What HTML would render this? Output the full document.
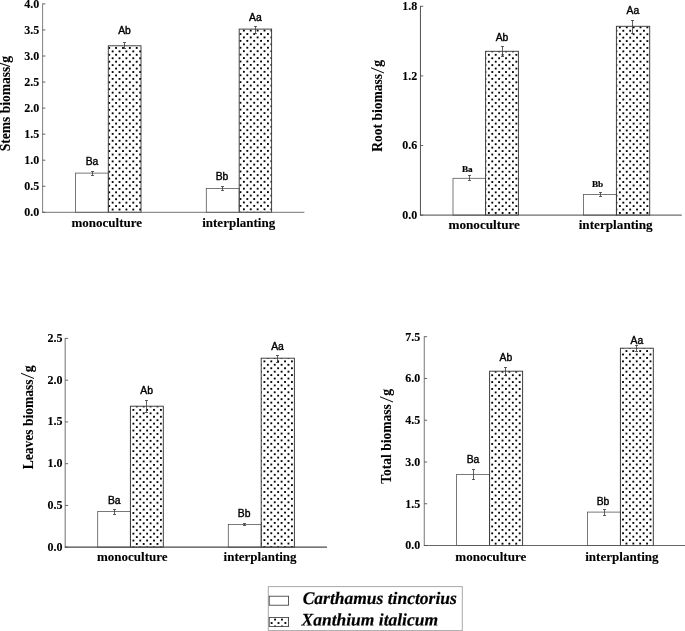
<!DOCTYPE html>
<html><head><meta charset="utf-8"><title>Biomass</title>
<style>
html,body{margin:0;padding:0;background:#fff;}
body{width:685px;height:631px;overflow:hidden;position:relative;}
svg{position:absolute;left:0;top:0;display:block;will-change:transform;}
.t{font-family:"Liberation Serif",serif;font-weight:bold;fill:#000;stroke:#000;stroke-width:0.1px;}
.tk{font-size:12px;text-anchor:end;}
.xl{font-size:13px;text-anchor:middle;}
.yl{font-size:13.55px;text-anchor:start;}
.sl{font-weight:normal;font-size:18.3px;stroke-width:0;}
.a{font-family:"Liberation Sans",sans-serif;font-size:10.35px;text-anchor:middle;fill:#000;stroke:#000;stroke-width:0.38px;}
.b{font-family:"Liberation Serif",serif;font-weight:bold;font-size:9.2px;text-anchor:middle;fill:#000;stroke:#000;stroke-width:0.15px;}
.lg{font-family:"Liberation Serif",serif;font-weight:bold;font-style:italic;font-size:17.5px;fill:#000;stroke:#000;stroke-width:0.2px;}
</style></head><body>
<svg width="685" height="631" viewBox="0 0 685 631">
<defs>
<g id="dg" fill="#000"><rect x="-4.36" y="-4.36" width="1.85" height="1.85"/><rect x="2.51" y="-4.36" width="1.85" height="1.85"/><rect x="9.39" y="-4.36" width="1.85" height="1.85"/><rect x="16.26" y="-4.36" width="1.85" height="1.85"/><rect x="23.14" y="-4.36" width="1.85" height="1.85"/><rect x="30.01" y="-4.36" width="1.85" height="1.85"/><rect x="36.89" y="-4.36" width="1.85" height="1.85"/><rect x="43.76" y="-4.36" width="1.85" height="1.85"/><rect x="50.64" y="-4.36" width="1.85" height="1.85"/><rect x="57.51" y="-4.36" width="1.85" height="1.85"/><rect x="-4.36" y="2.51" width="1.85" height="1.85"/><rect x="-0.93" y="-0.93" width="1.85" height="1.85"/><rect x="2.51" y="2.51" width="1.85" height="1.85"/><rect x="5.95" y="-0.93" width="1.85" height="1.85"/><rect x="9.39" y="2.51" width="1.85" height="1.85"/><rect x="12.82" y="-0.93" width="1.85" height="1.85"/><rect x="16.26" y="2.51" width="1.85" height="1.85"/><rect x="19.7" y="-0.93" width="1.85" height="1.85"/><rect x="23.14" y="2.51" width="1.85" height="1.85"/><rect x="26.57" y="-0.93" width="1.85" height="1.85"/><rect x="30.01" y="2.51" width="1.85" height="1.85"/><rect x="33.45" y="-0.93" width="1.85" height="1.85"/><rect x="36.89" y="2.51" width="1.85" height="1.85"/><rect x="40.33" y="-0.93" width="1.85" height="1.85"/><rect x="43.76" y="2.51" width="1.85" height="1.85"/><rect x="47.2" y="-0.93" width="1.85" height="1.85"/><rect x="50.64" y="2.51" width="1.85" height="1.85"/><rect x="54.08" y="-0.93" width="1.85" height="1.85"/><rect x="57.51" y="2.51" width="1.85" height="1.85"/><rect x="-4.36" y="9.39" width="1.85" height="1.85"/><rect x="-0.93" y="5.95" width="1.85" height="1.85"/><rect x="2.51" y="9.39" width="1.85" height="1.85"/><rect x="5.95" y="5.95" width="1.85" height="1.85"/><rect x="9.39" y="9.39" width="1.85" height="1.85"/><rect x="12.82" y="5.95" width="1.85" height="1.85"/><rect x="16.26" y="9.39" width="1.85" height="1.85"/><rect x="19.7" y="5.95" width="1.85" height="1.85"/><rect x="23.14" y="9.39" width="1.85" height="1.85"/><rect x="26.57" y="5.95" width="1.85" height="1.85"/><rect x="30.01" y="9.39" width="1.85" height="1.85"/><rect x="33.45" y="5.95" width="1.85" height="1.85"/><rect x="36.89" y="9.39" width="1.85" height="1.85"/><rect x="40.33" y="5.95" width="1.85" height="1.85"/><rect x="43.76" y="9.39" width="1.85" height="1.85"/><rect x="47.2" y="5.95" width="1.85" height="1.85"/><rect x="50.64" y="9.39" width="1.85" height="1.85"/><rect x="54.08" y="5.95" width="1.85" height="1.85"/><rect x="57.51" y="9.39" width="1.85" height="1.85"/><rect x="-4.36" y="16.26" width="1.85" height="1.85"/><rect x="-0.93" y="12.82" width="1.85" height="1.85"/><rect x="2.51" y="16.26" width="1.85" height="1.85"/><rect x="5.95" y="12.82" width="1.85" height="1.85"/><rect x="9.39" y="16.26" width="1.85" height="1.85"/><rect x="12.82" y="12.82" width="1.85" height="1.85"/><rect x="16.26" y="16.26" width="1.85" height="1.85"/><rect x="19.7" y="12.82" width="1.85" height="1.85"/><rect x="23.14" y="16.26" width="1.85" height="1.85"/><rect x="26.57" y="12.82" width="1.85" height="1.85"/><rect x="30.01" y="16.26" width="1.85" height="1.85"/><rect x="33.45" y="12.82" width="1.85" height="1.85"/><rect x="36.89" y="16.26" width="1.85" height="1.85"/><rect x="40.33" y="12.82" width="1.85" height="1.85"/><rect x="43.76" y="16.26" width="1.85" height="1.85"/><rect x="47.2" y="12.82" width="1.85" height="1.85"/><rect x="50.64" y="16.26" width="1.85" height="1.85"/><rect x="54.08" y="12.82" width="1.85" height="1.85"/><rect x="57.51" y="16.26" width="1.85" height="1.85"/><rect x="-4.36" y="23.14" width="1.85" height="1.85"/><rect x="-0.93" y="19.7" width="1.85" height="1.85"/><rect x="2.51" y="23.14" width="1.85" height="1.85"/><rect x="5.95" y="19.7" width="1.85" height="1.85"/><rect x="9.39" y="23.14" width="1.85" height="1.85"/><rect x="12.82" y="19.7" width="1.85" height="1.85"/><rect x="16.26" y="23.14" width="1.85" height="1.85"/><rect x="19.7" y="19.7" width="1.85" height="1.85"/><rect x="23.14" y="23.14" width="1.85" height="1.85"/><rect x="26.57" y="19.7" width="1.85" height="1.85"/><rect x="30.01" y="23.14" width="1.85" height="1.85"/><rect x="33.45" y="19.7" width="1.85" height="1.85"/><rect x="36.89" y="23.14" width="1.85" height="1.85"/><rect x="40.33" y="19.7" width="1.85" height="1.85"/><rect x="43.76" y="23.14" width="1.85" height="1.85"/><rect x="47.2" y="19.7" width="1.85" height="1.85"/><rect x="50.64" y="23.14" width="1.85" height="1.85"/><rect x="54.08" y="19.7" width="1.85" height="1.85"/><rect x="57.51" y="23.14" width="1.85" height="1.85"/><rect x="-4.36" y="30.01" width="1.85" height="1.85"/><rect x="-0.93" y="26.57" width="1.85" height="1.85"/><rect x="2.51" y="30.01" width="1.85" height="1.85"/><rect x="5.95" y="26.57" width="1.85" height="1.85"/><rect x="9.39" y="30.01" width="1.85" height="1.85"/><rect x="12.82" y="26.57" width="1.85" height="1.85"/><rect x="16.26" y="30.01" width="1.85" height="1.85"/><rect x="19.7" y="26.57" width="1.85" height="1.85"/><rect x="23.14" y="30.01" width="1.85" height="1.85"/><rect x="26.57" y="26.57" width="1.85" height="1.85"/><rect x="30.01" y="30.01" width="1.85" height="1.85"/><rect x="33.45" y="26.57" width="1.85" height="1.85"/><rect x="36.89" y="30.01" width="1.85" height="1.85"/><rect x="40.33" y="26.57" width="1.85" height="1.85"/><rect x="43.76" y="30.01" width="1.85" height="1.85"/><rect x="47.2" y="26.57" width="1.85" height="1.85"/><rect x="50.64" y="30.01" width="1.85" height="1.85"/><rect x="54.08" y="26.57" width="1.85" height="1.85"/><rect x="57.51" y="30.01" width="1.85" height="1.85"/><rect x="-4.36" y="36.89" width="1.85" height="1.85"/><rect x="-0.93" y="33.45" width="1.85" height="1.85"/><rect x="2.51" y="36.89" width="1.85" height="1.85"/><rect x="5.95" y="33.45" width="1.85" height="1.85"/><rect x="9.39" y="36.89" width="1.85" height="1.85"/><rect x="12.82" y="33.45" width="1.85" height="1.85"/><rect x="16.26" y="36.89" width="1.85" height="1.85"/><rect x="19.7" y="33.45" width="1.85" height="1.85"/><rect x="23.14" y="36.89" width="1.85" height="1.85"/><rect x="26.57" y="33.45" width="1.85" height="1.85"/><rect x="30.01" y="36.89" width="1.85" height="1.85"/><rect x="33.45" y="33.45" width="1.85" height="1.85"/><rect x="36.89" y="36.89" width="1.85" height="1.85"/><rect x="40.33" y="33.45" width="1.85" height="1.85"/><rect x="43.76" y="36.89" width="1.85" height="1.85"/><rect x="47.2" y="33.45" width="1.85" height="1.85"/><rect x="50.64" y="36.89" width="1.85" height="1.85"/><rect x="54.08" y="33.45" width="1.85" height="1.85"/><rect x="57.51" y="36.89" width="1.85" height="1.85"/><rect x="-4.36" y="43.76" width="1.85" height="1.85"/><rect x="-0.93" y="40.33" width="1.85" height="1.85"/><rect x="2.51" y="43.76" width="1.85" height="1.85"/><rect x="5.95" y="40.33" width="1.85" height="1.85"/><rect x="9.39" y="43.76" width="1.85" height="1.85"/><rect x="12.82" y="40.33" width="1.85" height="1.85"/><rect x="16.26" y="43.76" width="1.85" height="1.85"/><rect x="19.7" y="40.33" width="1.85" height="1.85"/><rect x="23.14" y="43.76" width="1.85" height="1.85"/><rect x="26.57" y="40.33" width="1.85" height="1.85"/><rect x="30.01" y="43.76" width="1.85" height="1.85"/><rect x="33.45" y="40.33" width="1.85" height="1.85"/><rect x="36.89" y="43.76" width="1.85" height="1.85"/><rect x="40.33" y="40.33" width="1.85" height="1.85"/><rect x="43.76" y="43.76" width="1.85" height="1.85"/><rect x="47.2" y="40.33" width="1.85" height="1.85"/><rect x="50.64" y="43.76" width="1.85" height="1.85"/><rect x="54.08" y="40.33" width="1.85" height="1.85"/><rect x="57.51" y="43.76" width="1.85" height="1.85"/><rect x="-4.36" y="50.64" width="1.85" height="1.85"/><rect x="-0.93" y="47.2" width="1.85" height="1.85"/><rect x="2.51" y="50.64" width="1.85" height="1.85"/><rect x="5.95" y="47.2" width="1.85" height="1.85"/><rect x="9.39" y="50.64" width="1.85" height="1.85"/><rect x="12.82" y="47.2" width="1.85" height="1.85"/><rect x="16.26" y="50.64" width="1.85" height="1.85"/><rect x="19.7" y="47.2" width="1.85" height="1.85"/><rect x="23.14" y="50.64" width="1.85" height="1.85"/><rect x="26.57" y="47.2" width="1.85" height="1.85"/><rect x="30.01" y="50.64" width="1.85" height="1.85"/><rect x="33.45" y="47.2" width="1.85" height="1.85"/><rect x="36.89" y="50.64" width="1.85" height="1.85"/><rect x="40.33" y="47.2" width="1.85" height="1.85"/><rect x="43.76" y="50.64" width="1.85" height="1.85"/><rect x="47.2" y="47.2" width="1.85" height="1.85"/><rect x="50.64" y="50.64" width="1.85" height="1.85"/><rect x="54.08" y="47.2" width="1.85" height="1.85"/><rect x="57.51" y="50.64" width="1.85" height="1.85"/><rect x="-4.36" y="57.51" width="1.85" height="1.85"/><rect x="-0.93" y="54.08" width="1.85" height="1.85"/><rect x="2.51" y="57.51" width="1.85" height="1.85"/><rect x="5.95" y="54.08" width="1.85" height="1.85"/><rect x="9.39" y="57.51" width="1.85" height="1.85"/><rect x="12.82" y="54.08" width="1.85" height="1.85"/><rect x="16.26" y="57.51" width="1.85" height="1.85"/><rect x="19.7" y="54.08" width="1.85" height="1.85"/><rect x="23.14" y="57.51" width="1.85" height="1.85"/><rect x="26.57" y="54.08" width="1.85" height="1.85"/><rect x="30.01" y="57.51" width="1.85" height="1.85"/><rect x="33.45" y="54.08" width="1.85" height="1.85"/><rect x="36.89" y="57.51" width="1.85" height="1.85"/><rect x="40.33" y="54.08" width="1.85" height="1.85"/><rect x="43.76" y="57.51" width="1.85" height="1.85"/><rect x="47.2" y="54.08" width="1.85" height="1.85"/><rect x="50.64" y="57.51" width="1.85" height="1.85"/><rect x="54.08" y="54.08" width="1.85" height="1.85"/><rect x="57.51" y="57.51" width="1.85" height="1.85"/></g>
<pattern id="d0_1" x="0" y="0" width="55" height="55" patternUnits="userSpaceOnUse"><use href="#dg" x="-0.78" y="-0.17"/></pattern>
<pattern id="d0_3" x="0" y="0" width="55" height="55" patternUnits="userSpaceOnUse"><use href="#dg" x="-0.18" y="-0.38"/></pattern>
<pattern id="d1_1" x="0" y="0" width="55" height="55" patternUnits="userSpaceOnUse"><use href="#dg" x="0.72" y="-0.17"/></pattern>
<pattern id="d1_3" x="0" y="0" width="55" height="55" patternUnits="userSpaceOnUse"><use href="#dg" x="1.12" y="-0.17"/></pattern>
<pattern id="d2_1" x="0" y="0" width="55" height="55" patternUnits="userSpaceOnUse"><use href="#dg" x="-0.68" y="0.83"/></pattern>
<pattern id="d2_3" x="0" y="0" width="55" height="55" patternUnits="userSpaceOnUse"><use href="#dg" x="-0.28" y="0.42"/></pattern>
<pattern id="d3_1" x="0" y="0" width="55" height="55" patternUnits="userSpaceOnUse"><use href="#dg" x="0.62" y="0.53"/></pattern>
<pattern id="d3_3" x="0" y="0" width="55" height="55" patternUnits="userSpaceOnUse"><use href="#dg" x="0.82" y="0.42"/></pattern>
<pattern id="dlg" x="0" y="0" width="55" height="55" patternUnits="userSpaceOnUse"><use href="#dg" x="0.07" y="0.83"/></pattern>
</defs>
<rect x="0" y="0" width="685" height="631" fill="#fff"/>
<g>
<rect x="75.5" y="173.1" width="32.8" height="39.2" fill="#fff" stroke="#585858" stroke-width="0.8"/>
<rect x="108.3" y="45.8" width="32.7" height="166.5" fill="url(#d0_1)" stroke="#3a3a3a" stroke-width="0.95"/>
<rect x="206.3" y="188.4" width="32.9" height="23.9" fill="#fff" stroke="#585858" stroke-width="0.8"/>
<rect x="239.2" y="29.1" width="32.4" height="183.2" fill="url(#d0_3)" stroke="#3a3a3a" stroke-width="0.95"/>
<path d="M92.5 171.5V175.5M91 171.5H94M91 175.5H94" stroke="#3a3a3a" stroke-width="0.8" fill="none"/>
<path d="M124.5 42.5V48.5M123 42.5H126M123 48.5H126" stroke="#3a3a3a" stroke-width="0.8" fill="none"/>
<path d="M222.5 186.5V190.5M221 186.5H224M221 190.5H224" stroke="#3a3a3a" stroke-width="0.8" fill="none"/>
<path d="M255.5 26.5V33.5M254 26.5H257M254 33.5H257" stroke="#3a3a3a" stroke-width="0.8" fill="none"/>
<path d="M42.6 3.5V212.7" stroke="#6a6a6a" stroke-width="0.85" fill="none"/>
<path d="M42.2 212.3H304.4" stroke="#666" stroke-width="0.9" fill="none"/>
<path d="M42.6 212.3H45.4" stroke="#555" stroke-width="0.9"/>
<text class="t tk" x="39.15" y="216.05">0.0</text>
<path d="M42.6 186.25H45.4" stroke="#555" stroke-width="0.9"/>
<text class="t tk" x="39.15" y="190">0.5</text>
<path d="M42.6 160.2H45.4" stroke="#555" stroke-width="0.9"/>
<text class="t tk" x="39.15" y="163.95">1.0</text>
<path d="M42.6 134.15H45.4" stroke="#555" stroke-width="0.9"/>
<text class="t tk" x="39.15" y="137.9">1.5</text>
<path d="M42.6 108.1H45.4" stroke="#555" stroke-width="0.9"/>
<text class="t tk" x="39.15" y="111.85">2.0</text>
<path d="M42.6 82.05H45.4" stroke="#555" stroke-width="0.9"/>
<text class="t tk" x="39.15" y="85.8">2.5</text>
<path d="M42.6 56H45.4" stroke="#555" stroke-width="0.9"/>
<text class="t tk" x="39.15" y="59.75">3.0</text>
<path d="M42.6 29.95H45.4" stroke="#555" stroke-width="0.9"/>
<text class="t tk" x="39.15" y="33.7">3.5</text>
<path d="M42.6 3.9H45.4" stroke="#555" stroke-width="0.9"/>
<text class="t tk" x="39.15" y="7.65">4.0</text>
<text class="t xl" x="106.8" y="226.5">monoculture</text>
<text class="t xl" x="238.7" y="226.5">interplanting</text>
<text class="t yl" transform="translate(9.95 151.3) rotate(-90)">Stems biomass/g</text>
<text class="a" x="92" y="165">Ba</text>
<text class="a" x="124.5" y="34.4">Ab</text>
<text class="a" x="222" y="179.6">Bb</text>
<text class="a" x="255.4" y="20.9">Aa</text>
</g>
<g>
<rect x="453" y="178.3" width="32.6" height="36.8" fill="#fff" stroke="#585858" stroke-width="0.8"/>
<rect x="485.6" y="51.3" width="32.8" height="163.8" fill="url(#d1_1)" stroke="#3a3a3a" stroke-width="0.95"/>
<rect x="583.6" y="194.4" width="32.8" height="20.7" fill="#fff" stroke="#585858" stroke-width="0.8"/>
<rect x="616.4" y="26.3" width="33.3" height="188.8" fill="url(#d1_3)" stroke="#3a3a3a" stroke-width="0.95"/>
<path d="M469.5 175.5V180.5M468 175.5H471M468 180.5H471" stroke="#3a3a3a" stroke-width="0.8" fill="none"/>
<path d="M502.5 46.5V56.5M501 46.5H504M501 56.5H504" stroke="#3a3a3a" stroke-width="0.8" fill="none"/>
<path d="M600.5 192.5V196.5M599 192.5H602M599 196.5H602" stroke="#3a3a3a" stroke-width="0.8" fill="none"/>
<path d="M632.5 20.5V33.5M631 20.5H634M631 33.5H634" stroke="#3a3a3a" stroke-width="0.8" fill="none"/>
<path d="M420.45 5.9V215.5" stroke="#505050" stroke-width="1.0" fill="none"/>
<path d="M420.05 215.1H681.8" stroke="#484848" stroke-width="1.0" fill="none"/>
<path d="M420.45 215.1H423.25" stroke="#555" stroke-width="0.9"/>
<text class="t tk" x="417.25" y="218.9">0.0</text>
<path d="M420.45 145.5H423.25" stroke="#555" stroke-width="0.9"/>
<text class="t tk" x="417.25" y="149.3">0.6</text>
<path d="M420.45 75.9H423.25" stroke="#555" stroke-width="0.9"/>
<text class="t tk" x="417.25" y="79.7">1.2</text>
<path d="M420.45 6.3H423.25" stroke="#555" stroke-width="0.9"/>
<text class="t tk" x="417.25" y="10.1">1.8</text>
<text class="t xl" x="484.2" y="228.5" style="font-size:13.2px">monoculture</text>
<text class="t xl" x="615.7" y="228.5" style="font-size:13.2px">interplanting</text>
<g transform="translate(382.2 151.8) rotate(-90)"><text class="t yl" x="0" y="0">Root biomass</text><text class="t sl" transform="translate(78.31 1.7) scale(1.25 1)">/</text><text class="t yl" x="85.11" y="0">g</text></g>
<text class="b" x="467.3" y="172">Ba</text>
<text class="a" x="502" y="40.7">Ab</text>
<text class="b" x="597.5" y="186.7">Bb</text>
<text class="a" x="632.9" y="13.8">Aa</text>
</g>
<g>
<rect x="97.7" y="511.5" width="32.7" height="35.7" fill="#fff" stroke="#585858" stroke-width="0.8"/>
<rect x="130.4" y="406.2" width="32.9" height="141" fill="url(#d2_1)" stroke="#3a3a3a" stroke-width="0.95"/>
<rect x="228.3" y="524.4" width="32.9" height="22.8" fill="#fff" stroke="#585858" stroke-width="0.8"/>
<rect x="261.2" y="358.2" width="33.2" height="189" fill="url(#d2_3)" stroke="#3a3a3a" stroke-width="0.95"/>
<path d="M114.5 509.5V514.5M113 509.5H116M113 514.5H116" stroke="#3a3a3a" stroke-width="0.8" fill="none"/>
<path d="M146.5 400.5V412.5M145 400.5H148M145 412.5H148" stroke="#3a3a3a" stroke-width="0.8" fill="none"/>
<path d="M244.5 523.5V525.5M243 523.5H246M243 525.5H246" stroke="#3a3a3a" stroke-width="0.8" fill="none"/>
<path d="M277.5 355.5V362.5M276 355.5H279M276 362.5H279" stroke="#3a3a3a" stroke-width="0.8" fill="none"/>
<path d="M65.25 338V547.6" stroke="#a0a0a0" stroke-width="1.5" fill="none"/>
<path d="M64.85 547.2H327" stroke="#484848" stroke-width="1.2" fill="none"/>
<path d="M65.25 547.2H68.05" stroke="#555" stroke-width="0.9"/>
<text class="t tk" x="62.55" y="550.7">0.0</text>
<path d="M65.25 505.44H68.05" stroke="#555" stroke-width="0.9"/>
<text class="t tk" x="62.55" y="508.94">0.5</text>
<path d="M65.25 463.68H68.05" stroke="#555" stroke-width="0.9"/>
<text class="t tk" x="62.55" y="467.18">1.0</text>
<path d="M65.25 421.92H68.05" stroke="#555" stroke-width="0.9"/>
<text class="t tk" x="62.55" y="425.42">1.5</text>
<path d="M65.25 380.16H68.05" stroke="#555" stroke-width="0.9"/>
<text class="t tk" x="62.55" y="383.66">2.0</text>
<path d="M65.25 338.4H68.05" stroke="#555" stroke-width="0.9"/>
<text class="t tk" x="62.55" y="341.9">2.5</text>
<text class="t xl" x="132.3" y="560.5">monoculture</text>
<text class="t xl" x="260.1" y="560.5">interplanting</text>
<g transform="translate(32.5 469.3) rotate(-90)"><text class="t yl" x="0" y="0">Leaves biomass</text><text class="t sl" transform="translate(90.36 1.7) scale(1.25 1)">/</text><text class="t yl" x="97.16" y="0">g</text></g>
<text class="a" x="114.3" y="503.7">Ba</text>
<text class="a" x="146.7" y="393.6">Ab</text>
<text class="a" x="244.1" y="516.9">Bb</text>
<text class="a" x="277.5" y="349.9">Aa</text>
</g>
<g>
<rect x="456.6" y="474.4" width="33" height="71.1" fill="#fff" stroke="#585858" stroke-width="0.8"/>
<rect x="489.6" y="371.2" width="33" height="174.3" fill="url(#d3_1)" stroke="#3a3a3a" stroke-width="0.95"/>
<rect x="587.4" y="512.1" width="33" height="33.4" fill="#fff" stroke="#585858" stroke-width="0.8"/>
<rect x="620.4" y="348.2" width="32.9" height="197.3" fill="url(#d3_3)" stroke="#3a3a3a" stroke-width="0.95"/>
<path d="M473.5 469.5V479.5M472 469.5H475M472 479.5H475" stroke="#3a3a3a" stroke-width="0.8" fill="none"/>
<path d="M505.5 367.5V375.5M504 367.5H507M504 375.5H507" stroke="#3a3a3a" stroke-width="0.8" fill="none"/>
<path d="M604.5 509.5V515.5M603 509.5H606M603 515.5H606" stroke="#3a3a3a" stroke-width="0.8" fill="none"/>
<path d="M636.5 345.5V351.5M635 345.5H638M635 351.5H638" stroke="#3a3a3a" stroke-width="0.8" fill="none"/>
<path d="M424.3 336.3V545.9" stroke="#8c8c8c" stroke-width="1.2" fill="none"/>
<path d="M423.9 545.5H686" stroke="#555" stroke-width="0.9" fill="none"/>
<path d="M424.3 545.5H427.1" stroke="#555" stroke-width="0.9"/>
<text class="t tk" x="420.15" y="549.4">0.0</text>
<path d="M424.3 503.74H427.1" stroke="#555" stroke-width="0.9"/>
<text class="t tk" x="420.15" y="507.64">1.5</text>
<path d="M424.3 461.98H427.1" stroke="#555" stroke-width="0.9"/>
<text class="t tk" x="420.15" y="465.88">3.0</text>
<path d="M424.3 420.22H427.1" stroke="#555" stroke-width="0.9"/>
<text class="t tk" x="420.15" y="424.12">4.5</text>
<path d="M424.3 378.46H427.1" stroke="#555" stroke-width="0.9"/>
<text class="t tk" x="420.15" y="382.36">6.0</text>
<path d="M424.3 336.7H427.1" stroke="#555" stroke-width="0.9"/>
<text class="t tk" x="420.15" y="340.6">7.5</text>
<text class="t xl" x="490.8" y="561.2" style="font-size:13.1px">monoculture</text>
<text class="t xl" x="621.9" y="561.2" style="font-size:13.1px">interplanting</text>
<g transform="translate(391.1 483.8) rotate(-90)"><text class="t yl" x="0" y="0">Total biomass</text><text class="t sl" transform="translate(81.33 1.7) scale(1.25 1)">/</text><text class="t yl" x="88.13" y="0">g</text></g>
<text class="a" x="473" y="462.6">Ba</text>
<text class="a" x="505.9" y="361.2">Ab</text>
<text class="a" x="603" y="505.1">Bb</text>
<text class="a" x="636.9" y="344.1">Aa</text>
</g>
<g>
<rect x="268.3" y="586.6" width="194" height="44" fill="#fff" stroke="#a8a8a8" stroke-width="1"/>
<rect x="269.2" y="596.2" width="19.4" height="9" fill="#fff" stroke="#333" stroke-width="0.8"/>
<rect x="269.2" y="617.5" width="19.4" height="9" fill="url(#dlg)" stroke="#333" stroke-width="0.8"/>
<text class="lg" transform="translate(302.7 604) rotate(0.03) scale(1 1.01)">Carthamus tinctorius</text>
<text class="lg" transform="translate(301.5 625.4) rotate(0.03) scale(1 1.01)">Xanthium italicum</text>
</g>
</svg>
</body></html>
